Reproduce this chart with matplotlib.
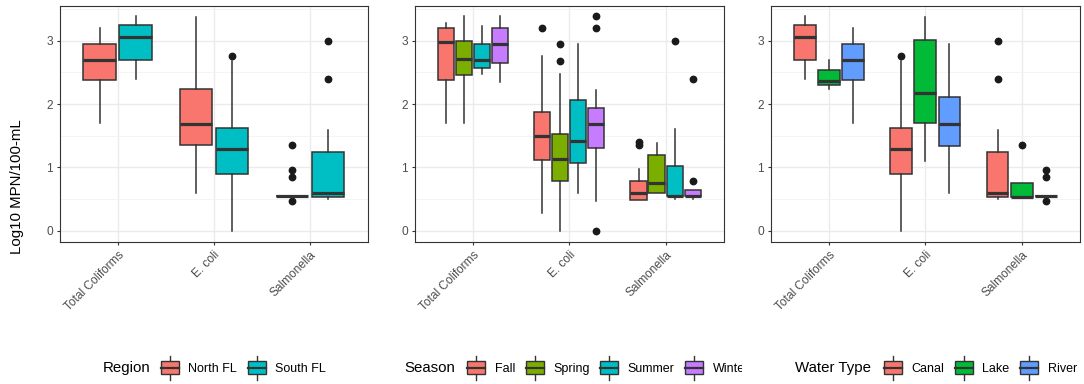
import matplotlib
matplotlib.use('Agg')
import matplotlib.pyplot as plt
from matplotlib.patches import Rectangle, Patch
from matplotlib.lines import Line2D
from matplotlib.legend_handler import HandlerBase
from matplotlib.ticker import FixedLocator
from matplotlib.transforms import Bbox, TransformedBbox

plt.rcParams['font.family'] = ['Liberation Sans', 'DejaVu Sans']

categories = ['Total Coliforms', 'E. coli', 'Salmonella']

# five-number summaries per category: whisker low, Q1, median, Q3, whisker high
north_fl = [[1.70, 2.375, 2.69, 2.95, 3.19], [0.60, 1.36, 1.69, 2.23, 3.37], [0.55, 0.55, 0.55, 0.55, 0.55]]
north_fl_out = [[], [], [1.36, 0.96, 0.85, 0.47]]
south_fl = [[2.39, 2.70, 3.06, 3.25, 3.38], [0.0, 0.90, 1.29, 1.62, 2.67], [0.50, 0.54, 0.60, 1.24, 1.59]]
south_fl_out = [[], [2.76], [3.0, 2.40]]

fall = [[1.70, 2.385, 2.97, 3.20, 3.28], [0.29, 1.12, 1.49, 1.88, 2.75], [0.49, 0.49, 0.60, 0.78, 0.98]]
fall_out = [[], [3.20], [1.40, 1.36]]
spring = [[1.70, 2.45, 2.71, 3.0, 3.38], [0.0, 0.78, 1.13, 1.52, 2.47], [0.60, 0.60, 0.75, 1.19, 1.38]]
spring_out = [[], [2.95, 2.67], []]
summer = [[2.47, 2.56, 2.70, 2.95, 3.23], [0.60, 1.07, 1.42, 2.065, 2.95], [0.50, 0.55, 0.55, 1.02, 1.60]]
summer_out = [[], [], [3.0]]
winter = [[2.34, 2.64, 2.95, 3.19, 3.38], [0.47, 1.31, 1.69, 1.93, 2.22], [0.50, 0.55, 0.55, 0.64, 0.64]]
winter_out = [[], [3.38, 3.20, 0.0], [2.40, 0.79]]

canal = [[2.39, 2.70, 3.06, 3.25, 3.38], [0.0, 0.90, 1.29, 1.62, 2.67], [0.50, 0.54, 0.60, 1.24, 1.59]]
canal_out = [[], [2.76], [3.0, 2.40]]
lake = [[2.23, 2.30, 2.37, 2.53, 2.70], [1.11, 1.70, 2.17, 3.01, 3.37], [0.54, 0.54, 0.54, 0.75, 0.75]]
lake_out = [[], [], [1.36]]
river = [[1.70, 2.375, 2.69, 2.95, 3.19], [0.60, 1.345, 1.69, 2.11, 2.95], [0.55, 0.55, 0.55, 0.55, 0.55]]
river_out = [[], [], [0.96, 0.85, 0.47]]

region_labels = ['North FL', 'South FL']
season_labels = ['Fall', 'Spring', 'Summer', 'Winter']
water_labels = ['Canal', 'Lake', 'River']

region_colors = ['#F8766D', '#00BFC4']
season_colors = ['#F8766D', '#7CAE00', '#00BFC4', '#C77CFF']
water_colors = ['#F8766D', '#00BA38', '#619CFF']

EDGE = '#333333'


class BoxKey(HandlerBase):
    def create_artists(self, legend, orig_handle, xdescent, ydescent,
                       width, height, fontsize, trans):
        x0 = -xdescent
        y0 = -ydescent
        cx = x0 + width / 2
        wl = Line2D([cx, cx], [y0 - height * 0.3, y0 + height * 1.3],
                    color=EDGE, lw=1.0, transform=trans)
        rect = Rectangle((x0, y0 + height * 0.05), width, height * 0.9,
                         facecolor=orig_handle.get_facecolor(), edgecolor=EDGE,
                         lw=1.0, transform=trans)
        med = Line2D([x0, x0 + width], [y0 + height / 2] * 2,
                     color=EDGE, lw=1.6, transform=trans)
        return [wl, rect, med]


def draw_panel(ax, summaries, outliers, colors):
    n = len(colors)
    for i in range(n):
        offset = (i - (n - 1) / 2) * 0.75 / n
        stats = []
        for s, o in zip(summaries[i], outliers[i]):
            stats.append(dict(whislo=s[0], q1=s[1], med=s[2], q3=s[3], whishi=s[4], fliers=o))
        ax.bxp(stats, positions=[k + 1 + offset for k in range(len(categories))],
               widths=0.9 * 0.75 / n, patch_artist=True, showcaps=False,
               boxprops=dict(facecolor=colors[i], edgecolor=EDGE, lw=1.1),
               medianprops=dict(color=EDGE, lw=2.3, solid_capstyle='butt'),
               whiskerprops=dict(color=EDGE, lw=1.1),
               flierprops=dict(marker='o', markerfacecolor='#1a1a1a',
                               markeredgecolor='#1a1a1a', markersize=4.6),
               manage_ticks=False)

    ax.set_xlim(0.4, 3.6)
    ax.set_ylim(-0.169, 3.549)
    ax.set_xticks([1, 2, 3])
    ax.set_xticklabels(categories, rotation=45, ha='right', va='top',
                       rotation_mode='anchor')
    ax.set_yticks([0, 1, 2, 3])
    ax.yaxis.set_minor_locator(FixedLocator([0.5, 1.5, 2.5, 3.5]))
    ax.tick_params(which='major', length=2.5, width=0.8, color=EDGE,
                   labelsize=8.6, labelcolor='#4D4D4D', pad=2.5)
    ax.tick_params(which='minor', length=0)
    ax.grid(which='major', color='#EBEBEB', lw=1.0)
    ax.grid(which='minor', axis='y', color='#F2F2F2', lw=0.6)
    ax.set_axisbelow(True)
    for sp in ax.spines.values():
        sp.set_color(EDGE)
        sp.set_linewidth(0.8)


fig = plt.figure(figsize=(10.84, 3.84), dpi=100)
W, H = 1084, 384
bottom = 1 - 241.7 / H
height = (241.7 - 5.7) / H
ax1 = fig.add_axes([60 / W, bottom, 307.5 / W, height])
ax2 = fig.add_axes([415 / W, bottom, 308.5 / W, height])
ax3 = fig.add_axes([771 / W, bottom, 308.5 / W, height])

draw_panel(ax1, [north_fl, south_fl], [north_fl_out, south_fl_out], region_colors)
draw_panel(ax2, [fall, spring, summer, winter], [fall_out, spring_out, summer_out, winter_out], season_colors)
draw_panel(ax3, [canal, lake, river], [canal_out, lake_out, river_out], water_colors)

fig.text(17.5 / W, 1 - 187 / H, 'Log10 MPN/100-mL', rotation=90, ha='center',
         va='center', fontsize=10.8)

ly = 1 - 367.7 / H
legends = [
    ('Region', region_labels, region_colors, 103, 161),
    ('Season', season_labels, season_colors, 404, 467),
    ('Water Type', water_labels, water_colors, 795, 884),
]
for title, labels, colors, tx, kx in legends:
    fig.text(tx / W, ly, title, ha='left', va='center', fontsize=10.8)
    handles = [Patch(facecolor=c) for c in colors]
    leg = fig.legend(handles, labels, loc='center left', bbox_to_anchor=(kx / W, ly),
                     ncol=len(labels), frameon=False, fontsize=9,
                     handler_map={Patch: BoxKey()}, handlelength=1.45,
                     handleheight=1.45, handletextpad=0.75, columnspacing=0.85,
                     borderpad=0, borderaxespad=0)
    if title == 'Season':
        clip = TransformedBbox(Bbox([[0, 0], [742 / W, 1]]), fig.transFigure)
        for t in leg.get_texts():
            t.set_clip_box(clip)
            t.set_clip_on(True)

fig.savefig('out.png', dpi=100)
